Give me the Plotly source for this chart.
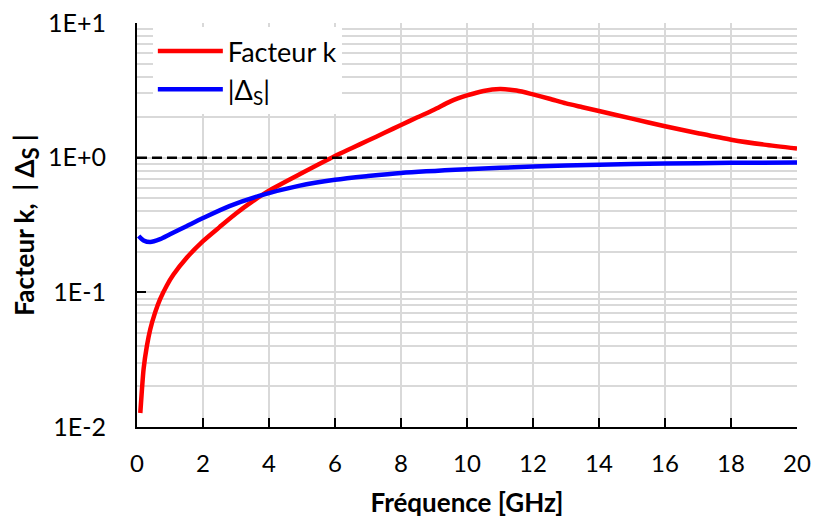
import plotly.graph_objects as go

# Facteur k
freq_k = [0.1, 0.15, 0.2, 0.3, 0.4, 0.55, 0.7, 0.9, 1.1, 1.5, 2.0, 2.5, 3.0, 3.5,
          4.0, 5.0, 6.0, 6.5, 7.0, 7.5, 8.0, 8.5, 9.0, 9.5, 10.0, 10.5, 11.0, 11.5,
          12.0, 12.5, 13.0, 13.5, 14.0, 15.0, 16.0, 17.0, 18.0, 19.0, 20.0]
k_vals = [0.0127, 0.019, 0.027, 0.040, 0.053, 0.071, 0.089, 0.112, 0.135, 0.18,
          0.24, 0.305, 0.385, 0.473, 0.569, 0.77, 1.03, 1.175, 1.34, 1.53, 1.75,
          1.995, 2.27, 2.62, 2.90, 3.13, 3.23, 3.15, 2.95, 2.74, 2.53, 2.37, 2.22,
          1.95, 1.71, 1.52, 1.36, 1.25, 1.17]

# |Delta_S|
freq_d = [0.05, 0.2, 0.4, 0.7, 1.0, 1.5, 2.0, 2.8, 3.7, 4.9, 6.0, 7.0, 8.0,
          10.0, 12.0, 14.0, 16.0, 18.0, 20.0]
d_vals = [0.262, 0.243, 0.236, 0.248, 0.27, 0.31, 0.356, 0.437, 0.52, 0.617,
          0.685, 0.73, 0.77, 0.82, 0.86, 0.885, 0.905, 0.915, 0.92]

threshold = 1.0
x_ticks = list(range(0, 21, 2))
y_major = [0.01, 0.1, 1, 10]
y_major_text = ["1E-2", "1E-1", "1E+0", "1E+1"]
y_minor = [m * d for d in [0.01, 0.1, 1] for m in range(2, 10)]

FONT = "Lato"
GRID = "#d9d9d9"

fig = go.Figure()
fig.add_trace(go.Scatter(x=freq_k, y=k_vals, mode="lines", name="Facteur k",
                         line=dict(color="#ff0000", width=4.5, shape="spline", smoothing=0.7)))
fig.add_trace(go.Scatter(x=freq_d, y=d_vals, mode="lines", name="|Δ<sub>S</sub>|",
                         line=dict(color="#0000ff", width=4.5, shape="spline", smoothing=0.8)))
fig.add_shape(type="line", xref="x", yref="y", x0=0, x1=20, y0=threshold, y1=threshold,
              line=dict(color="black", width=2.5, dash="10px,5px"), layer="above")

fig.update_layout(
    width=814, height=521,
    margin=dict(l=137, r=17, t=23, b=94),
    paper_bgcolor="white", plot_bgcolor="white",
    font=dict(family=FONT, size=24, color="black"),
    showlegend=True,
    legend=dict(x=0.024, y=0.99, xanchor="left", yanchor="top",
                bgcolor="white", borderwidth=0, font=dict(size=27),
                tracegroupgap=0, itemwidth=65),
    xaxis=dict(range=[0, 20], tickvals=x_ticks, ticks="inside", ticklen=9,
               tickwidth=1.5, tickcolor="black", showline=True, linecolor="black",
               linewidth=2, showgrid=True, gridcolor=GRID, gridwidth=1.5,
               zeroline=False, tickfont=dict(size=24), ticklabelstandoff=14,
               automargin=False,
               title=dict(text="<b>Fréquence [GHz]</b>", font=dict(size=26), standoff=18)),
    yaxis=dict(type="log", range=[-2, 1], tickvals=y_major, ticktext=y_major_text,
               ticks="inside", ticklen=9, tickwidth=1.5, tickcolor="black",
               showline=True, linecolor="black", linewidth=2,
               showgrid=True, gridcolor=GRID, gridwidth=1.5, zeroline=False,
               tickfont=dict(size=25), ticklabelstandoff=24, automargin=False,
               minor=dict(tickvals=y_minor, showgrid=True, gridcolor=GRID,
                          gridwidth=1.5, ticks=""),
               title=dict(text="<b>Facteur k,  | Δ<sub><span style='font-size:22px'>S</span></sub> |</b>",
                          font=dict(size=26), standoff=6)),
)

fig.write_html("out.html", config={"displayModeBar": False},
               post_script="document.body.style.margin='0';document.body.style.overflow='hidden';")
